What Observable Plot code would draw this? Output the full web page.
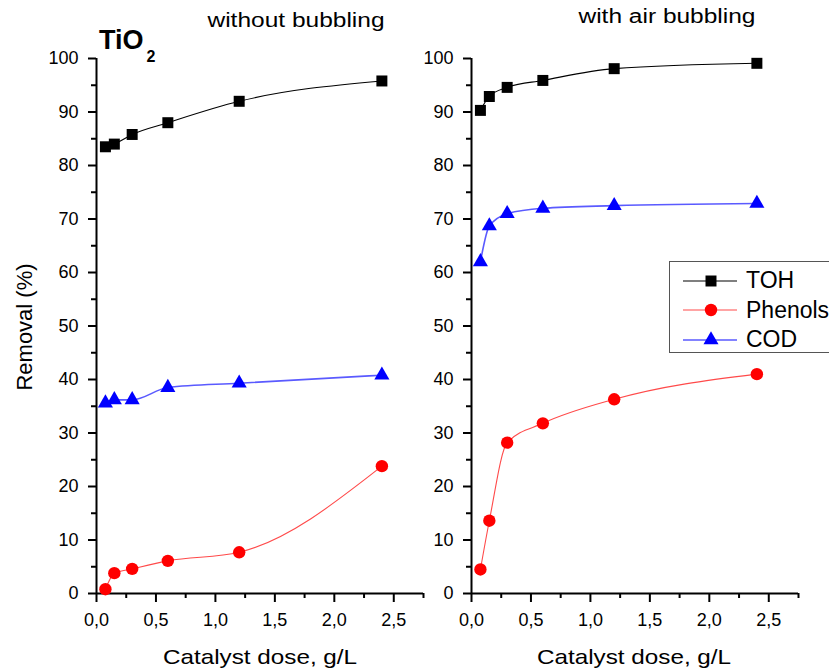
<!DOCTYPE html>
<html>
<head>
<meta charset="utf-8">
<script src="https://cdn.jsdelivr.net/npm/d3@7"></script>
<script src="https://cdn.jsdelivr.net/npm/@observablehq/plot@0.6"></script>
<style>
  html, body { margin: 0; padding: 0; background: #fff; }
  #wrap { position: relative; width: 829px; height: 671px; overflow: hidden; background: #fff;
          font-family: "Liberation Sans", Arial, sans-serif; color: #000; }
  .abs { position: absolute; line-height: 1; white-space: nowrap; }
  .panel { position: absolute; top: 0; }
  #legend { position: absolute; left: 669px; top: 261px; width: 200px; height: 92px;
            border: 1.5px solid #555; background: #fff; box-sizing: border-box; }
  #legend .row { position: absolute; left: 0; height: 30px; width: 200px; }
  #legend svg { position: absolute; left: 0; top: 0; }
  #legend .lab { position: absolute; left: 76px; font-size: 23px; line-height: 1; }
</style>
</head>
<body>
<div id="wrap">
  <div id="left" class="panel" style="left:0px"></div>
  <div id="right" class="panel" style="left:430px"></div>
  <div class="abs" style="left:296px; top:10.7px; font-size:19.6px; transform:translateX(-50%) scaleX(1.25)">without bubbling</div>
  <div class="abs" style="left:666.5px; top:7.4px; font-size:19.6px; transform:translateX(-50%) scaleX(1.25)">with air bubbling</div>
  <div class="abs" style="left:99px; top:27px; font-size:27px; font-weight:bold">TiO<span style="font-size:16px; position:relative; top:13px; left:3px">2</span></div>
  <div class="abs" style="left:259.5px; top:645.5px; font-size:21px; transform:translateX(-50%) scaleX(1.155)">Catalyst dose, g/L</div>
  <div class="abs" style="left:634px; top:645.5px; font-size:21px; transform:translateX(-50%) scaleX(1.155)">Catalyst dose, g/L</div>
  <div class="abs" style="left:25px; top:327px; font-size:22px; transform:translate(-50%,-50%) rotate(-90deg)">Removal (%)</div>
  <div id="legend"></div>
</div>
<script>
// ---- data ----
const dose = [0.075, 0.15, 0.3, 0.6, 1.2, 2.4];
const seriesNames = ["TOH", "Phenols", "COD"];

// without bubbling
const tohNoBubble     = [83.5, 84.0, 85.8, 88.0, 92.0, 95.8];
const phenolsNoBubble = [0.8, 3.8, 4.6, 6.1, 7.7, 23.8];
const codNoBubble     = [35.6, 36.2, 36.2, 38.5, 39.3, 40.8];

// with air bubbling
const tohAir     = [90.3, 92.9, 94.6, 95.9, 98.1, 99.1];
const phenolsAir = [4.5, 13.6, 28.2, 31.8, 36.3, 41.0];
const codAir     = [62.0, 68.7, 71.0, 72.0, 72.5, 72.9];

const yTicks = [0, 10, 20, 30, 40, 50, 60, 70, 80, 90, 100];
const yMinor = [5, 15, 25, 35, 45, 55, 65, 75, 85, 95];
const xTicks = [0, 0.5, 1.0, 1.5, 2.0, 2.5];
const xMinor = [0.25, 0.75, 1.25, 1.75, 2.25, 2.75];

// ---- styles ----
const styles = {
  TOH:     {line: "#000000", lw: 1.1, fill: "#000000", symbol: "square", r: 6.2},
  Phenols: {line: "#ff4a4a", lw: 1.1, fill: "#ff0000", symbol: "circle", r: 6.2},
  COD:     {line: "#5a5aff", lw: 1.6, fill: "#0000ff", symbol: "triangle", r: 5.6}
};

const fmt = d => d.toFixed(1).replace(".", ",");

function rows(ys) { return dose.map((x, i) => ({x, y: ys[i]})); }

function panel(seriesData, opts) {
  const marks = [
    Plot.axisY({ticks: yTicks, tickSize: 8, tickPadding: 10, strokeWidth: 2, label: null, tickFormat: d => String(d)}),
    Plot.axisY({ticks: yMinor, tickSize: 5, strokeWidth: 2, text: null, label: null}),
    Plot.axisX({ticks: xTicks, tickSize: 9, tickPadding: 11, strokeWidth: 2, label: null, tickFormat: fmt}),
    Plot.axisX({ticks: xMinor, tickSize: 5, strokeWidth: 2, text: null, label: null}),
    Plot.ruleX([0], {y1: 0, y2: 100, strokeWidth: 2}),
    Plot.ruleY([0], {x1: 0, x2: 2.75, strokeWidth: 2})
  ];
  seriesNames.forEach((name, k) => {
    const s = styles[name];
    marks.push(Plot.line(rows(seriesData[k]), {x: "x", y: "y", stroke: s.line, strokeWidth: s.lw, curve: "monotone-x"}));
  });
  seriesNames.forEach((name, k) => {
    const s = styles[name];
    marks.push(Plot.dot(rows(seriesData[k]), {x: "x", y: "y", fill: s.fill, stroke: "none", symbol: s.symbol, r: s.r}));
  });
  return Plot.plot({
    width: opts.width, height: 671,
    marginLeft: opts.marginLeft, marginRight: opts.marginRight,
    marginTop: 58, marginBottom: 78,
    x: {domain: [0, 2.75]},
    y: {domain: [0, 100]},
    style: {fontFamily: '"Liberation Sans", Arial, sans-serif', fontSize: "18px", color: "#000", background: "transparent", overflow: "visible"},
    marks
  });
}

document.getElementById("left").appendChild(
  panel([tohNoBubble, phenolsNoBubble, codNoBubble], {width: 430, marginLeft: 96, marginRight: 7}));
document.getElementById("right").appendChild(
  panel([tohAir, phenolsAir, codAir], {width: 399, marginLeft: 41, marginRight: 31}));

// ---- legend ----
const legend = document.getElementById("legend");
const rowCenters = [18.5, 48, 77.5];
seriesNames.forEach((name, k) => {
  const s = styles[name];
  const cy = rowCenters[k];
  const row = document.createElement("div");
  row.className = "row";
  row.style.top = (cy - 15) + "px";
  const svgNS = "http://www.w3.org/2000/svg";
  const svg = document.createElementNS(svgNS, "svg");
  svg.setAttribute("width", "75"); svg.setAttribute("height", "30");
  const ln = document.createElementNS(svgNS, "line");
  ln.setAttribute("x1", 13); ln.setAttribute("x2", 67); ln.setAttribute("y1", 15); ln.setAttribute("y2", 15);
  ln.setAttribute("stroke", s.line); ln.setAttribute("stroke-width", s.lw);
  svg.appendChild(ln);
  const sym = {square: d3.symbolSquare, circle: d3.symbolCircle, triangle: d3.symbolTriangle}[s.symbol];
  const p = document.createElementNS(svgNS, "path");
  p.setAttribute("d", d3.symbol(sym, Math.PI * s.r * s.r)());
  p.setAttribute("transform", "translate(41,15)");
  p.setAttribute("fill", s.fill);
  svg.appendChild(p);
  row.appendChild(svg);
  const lab = document.createElement("div");
  lab.className = "lab";
  lab.style.top = (15 - 11.5 + 0.3) + "px";
  lab.textContent = name;
  row.appendChild(lab);
  legend.appendChild(row);
});
</script>
</body>
</html>
